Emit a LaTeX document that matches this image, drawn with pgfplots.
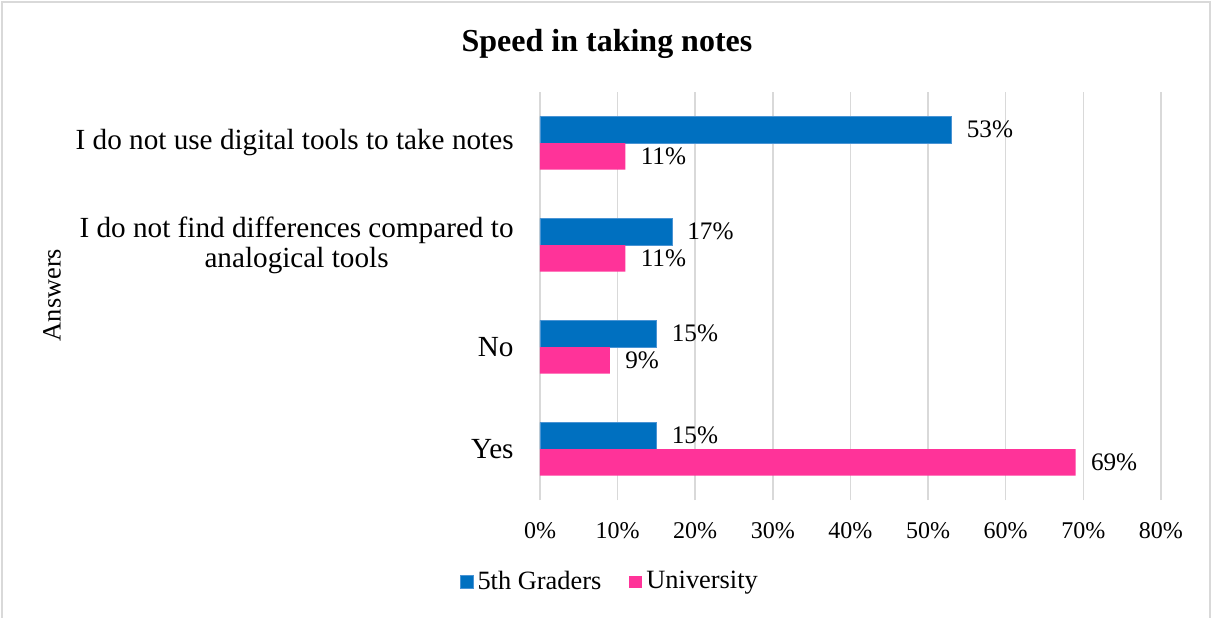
\documentclass[border=0pt,12pt]{standalone}
\usepackage{fontspec}
\setmainfont{Liberation Serif}
\usepackage{pgfplots}
\pgfplotsset{compat=1.18}
\definecolor{bblue}{HTML}{0070C0}
\definecolor{bblueedge}{HTML}{4A94D4}
\definecolor{bpink}{HTML}{FF3399}
\definecolor{gridc}{HTML}{D9D9D9}
\begin{document}
\begin{tikzpicture}[x=0.5pt,y=0.5pt]
\path[use as bounding box] (0,0) rectangle (1212,617);
\draw[gridc, line width=1pt] (2,-2) -- (2,615) -- (1210,615) -- (1210,-2);
\node[font=\bfseries\fontsize{16}{19}\selectfont] at (607,573) {Speed in taking notes};
\node[rotate=90, font=\fontsize{13.2}{15}\selectfont] at (52,322) {Answers};
\begin{axis}[
  at={(270pt,58.5pt)}, anchor=south west,
  scale only axis, width=310.5pt, height=204pt,
  xmin=0, xmax=80, ymin=-0.5, ymax=3.5,
  xtick={0,10,...,80},
  xticklabel={\pgfmathprintnumber{\tick}\%},
  /pgf/number format/assume math mode=true,
  xticklabel style={yshift=-7pt, font=\fontsize{12}{14}\selectfont},
  ytick={0,1,2,3},
  yticklabels={Yes,No,{I do not find differences compared to\\analogical tools},I do not use digital tools to take notes},
  yticklabel style={align=center, xshift=-9pt, font=\fontsize{14.6}{15}\selectfont},
  major tick length=0pt,
  axis line style={draw=none},
  xmajorgrids, grid style={gridc, line width=0.75pt},
  xbar, bar width=0.26,
  point meta=x,
  nodes near coords={\pgfmathprintnumber{\pgfplotspointmeta}\%},
  nodes near coords style={xshift=3.5pt, text=black, font=\fontsize{12.6}{14}\selectfont},
  legend style={at={(0.114,-0.201)}, anchor=center, draw=none, legend columns=2,
    font=\fontsize{13.2}{15}\selectfont,
    /tikz/every even column/.append style={column sep=12pt}},
  legend image code/.code={\fill[#1] (0pt,-3.2pt) rectangle (6.5pt,3.2pt);},
]
\addplot[fill=bblue, draw=bblueedge, line width=0.4pt, bar shift=0.13] coordinates {(15,0) (15,1) (17,2) (53,3)};
\addplot[fill=bpink, draw=none, bar shift=-0.13] coordinates {(69,0) (9,1) (11,2) (11,3)};
\legend{5th Graders,University}
\end{axis}
\end{tikzpicture}
\end{document}
